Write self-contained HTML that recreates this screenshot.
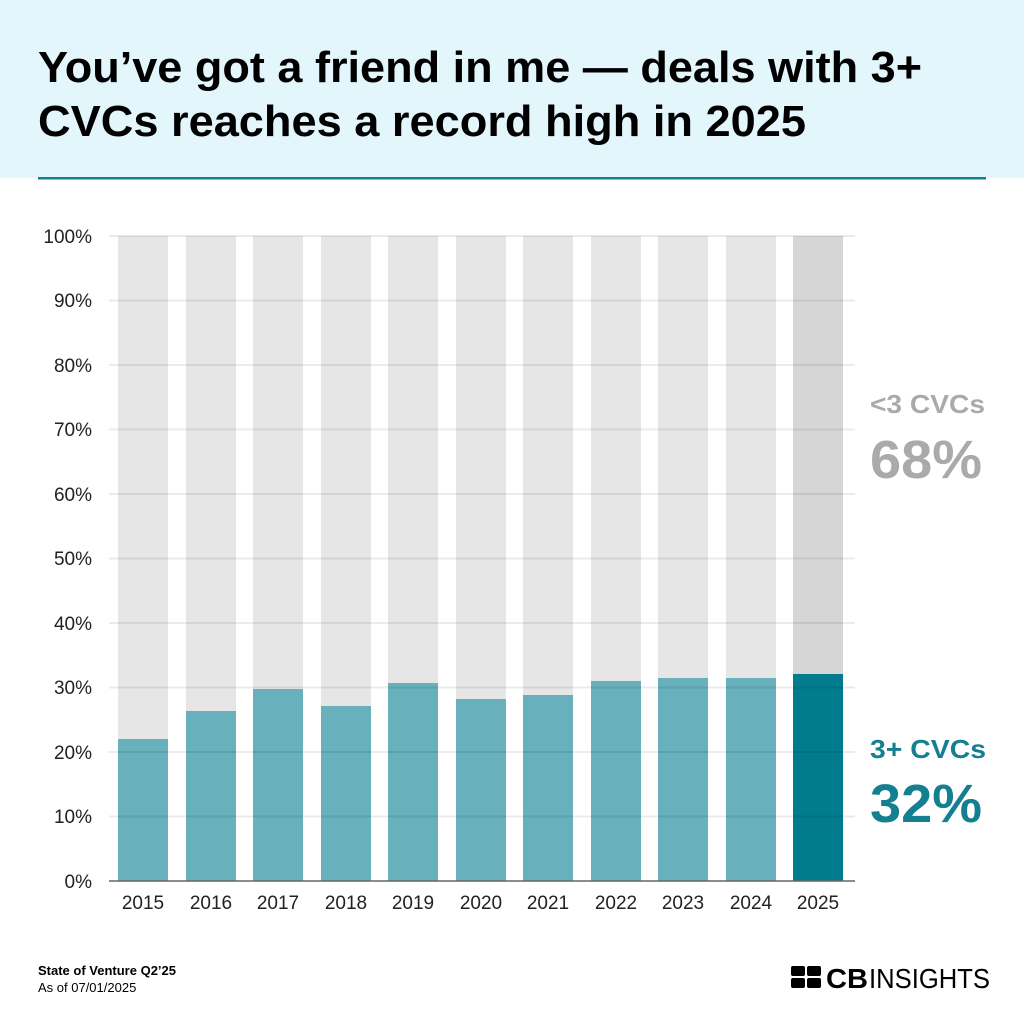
<!DOCTYPE html>
<html><head><meta charset="utf-8"><style>
html,body{margin:0;padding:0;background:#fff;}
svg{display:block;font-family:"Liberation Sans",sans-serif;}
</style></head><body>
<svg width="1024" height="1024" viewBox="0 0 1024 1024" xmlns="http://www.w3.org/2000/svg">
<rect x="0" y="0" width="1024" height="178" fill="#e3f6fb"/>
<rect x="38" y="177" width="948" height="2.5" fill="#137f91"/>
<text x="38" y="82" font-size="44" font-weight="bold" fill="#000" textLength="884" lengthAdjust="spacingAndGlyphs">You’ve got a friend in me — deals with 3+</text>
<text x="38" y="136" font-size="44" font-weight="bold" fill="#000" textLength="768" lengthAdjust="spacingAndGlyphs">CVCs reaches a record high in 2025</text>
<g id="bars">
<rect x="118" y="236" width="50" height="645" fill="#e6e6e6"/>
<rect x="186" y="236" width="50" height="645" fill="#e6e6e6"/>
<rect x="253" y="236" width="50" height="645" fill="#e6e6e6"/>
<rect x="321" y="236" width="50" height="645" fill="#e6e6e6"/>
<rect x="388" y="236" width="50" height="645" fill="#e6e6e6"/>
<rect x="456" y="236" width="50" height="645" fill="#e6e6e6"/>
<rect x="523" y="236" width="50" height="645" fill="#e6e6e6"/>
<rect x="591" y="236" width="50" height="645" fill="#e6e6e6"/>
<rect x="658" y="236" width="50" height="645" fill="#e6e6e6"/>
<rect x="726" y="236" width="50" height="645" fill="#e6e6e6"/>
<rect x="793" y="236" width="50" height="645" fill="#d6d6d6"/>
<rect x="118" y="739" width="50" height="142" fill="#67b0bc"/>
<rect x="186" y="711" width="50" height="170" fill="#67b0bc"/>
<rect x="253" y="689" width="50" height="192" fill="#67b0bc"/>
<rect x="321" y="706" width="50" height="175" fill="#67b0bc"/>
<rect x="388" y="683" width="50" height="198" fill="#67b0bc"/>
<rect x="456" y="699" width="50" height="182" fill="#67b0bc"/>
<rect x="523" y="695" width="50" height="186" fill="#67b0bc"/>
<rect x="591" y="681" width="50" height="200" fill="#67b0bc"/>
<rect x="658" y="678" width="50" height="203" fill="#67b0bc"/>
<rect x="726" y="678" width="50" height="203" fill="#67b0bc"/>
<rect x="793" y="674" width="50" height="207" fill="#017c8e"/>
</g>
<g stroke="#000" stroke-opacity="0.08" stroke-width="2">
<line x1="109" x2="855" y1="236" y2="236"/><line x1="109" x2="855" y1="300.5" y2="300.5"/>
<line x1="109" x2="855" y1="365" y2="365"/><line x1="109" x2="855" y1="429.5" y2="429.5"/>
<line x1="109" x2="855" y1="494" y2="494"/><line x1="109" x2="855" y1="558.5" y2="558.5"/>
<line x1="109" x2="855" y1="623" y2="623"/><line x1="109" x2="855" y1="687.5" y2="687.5"/>
<line x1="109" x2="855" y1="752" y2="752"/><line x1="109" x2="855" y1="816.5" y2="816.5"/>
</g>
<line x1="109" x2="855" y1="881" y2="881" stroke="#666" stroke-width="1.5"/>
<g font-size="19" fill="#222" text-anchor="end">
<text x="92" y="243">100%</text><text x="92" y="307">90%</text><text x="92" y="372">80%</text>
<text x="92" y="436">70%</text><text x="92" y="501">60%</text><text x="92" y="565">50%</text>
<text x="92" y="630">40%</text><text x="92" y="694">30%</text><text x="92" y="759">20%</text>
<text x="92" y="823">10%</text><text x="92" y="888">0%</text>
</g>
<g font-size="19" fill="#222" text-anchor="middle">
<text x="143" y="909">2015</text><text x="211" y="909">2016</text><text x="278" y="909">2017</text>
<text x="346" y="909">2018</text><text x="413" y="909">2019</text><text x="481" y="909">2020</text>
<text x="548" y="909">2021</text><text x="616" y="909">2022</text><text x="683" y="909">2023</text>
<text x="751" y="909">2024</text><text x="818" y="909">2025</text>
</g>
<text x="870" y="413" font-size="26" font-weight="bold" fill="#aaa" textLength="115" lengthAdjust="spacingAndGlyphs">&lt;3 CVCs</text>
<text x="870" y="478" font-size="54" font-weight="bold" fill="#aaa" textLength="112" lengthAdjust="spacingAndGlyphs">68%</text>
<text x="870" y="758" font-size="26" font-weight="bold" fill="#137f91" textLength="116" lengthAdjust="spacingAndGlyphs">3+ CVCs</text>
<text x="870" y="822" font-size="54" font-weight="bold" fill="#137f91" textLength="112" lengthAdjust="spacingAndGlyphs">32%</text>
<text x="38" y="975" font-size="13" font-weight="bold" fill="#000">State of Venture Q2’25</text>
<text x="38" y="992" font-size="13" fill="#000">As of 07/01/2025</text>
<g fill="#000">
<rect x="791" y="966" width="14" height="10" rx="2"/><rect x="791" y="978" width="14" height="10" rx="2"/>
<rect x="807" y="966" width="14" height="10" rx="2"/><rect x="807" y="978" width="14" height="10" rx="2"/>
</g>
<text x="826" y="988" font-size="28" font-weight="bold" fill="#000" textLength="42" lengthAdjust="spacingAndGlyphs">CB</text>
<text x="869" y="988" font-size="28" fill="#000" textLength="121" lengthAdjust="spacingAndGlyphs">INSIGHTS</text>
</svg>
</body></html>
